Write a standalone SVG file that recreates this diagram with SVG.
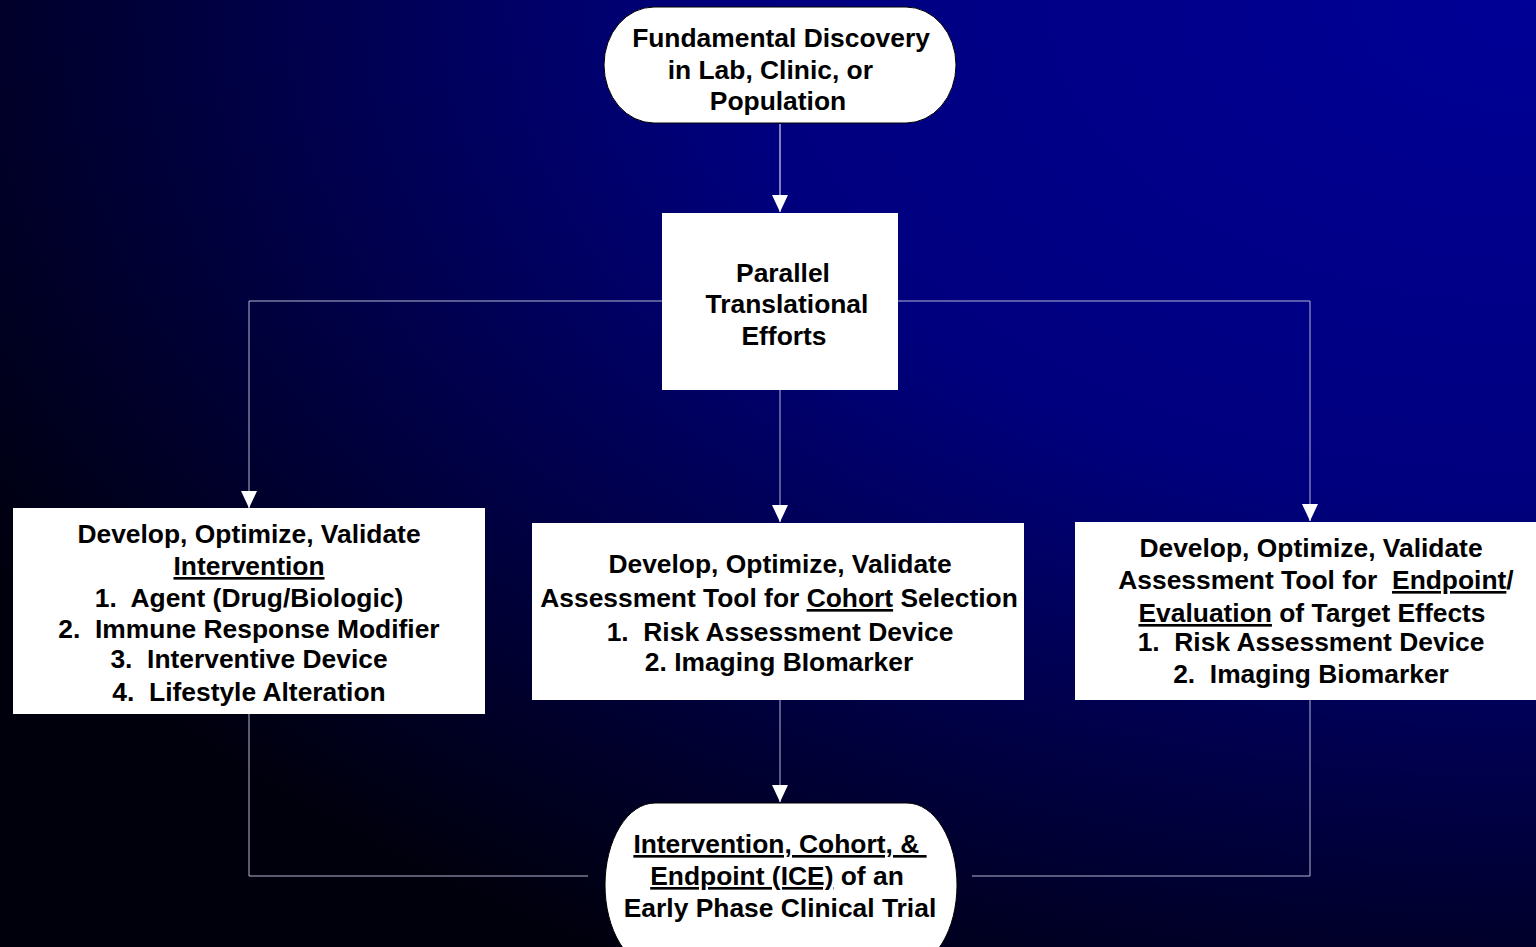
<svg xmlns="http://www.w3.org/2000/svg" width="1536" height="947" viewBox="0 0 1536 947">
  <defs>
    <radialGradient id="bg" gradientUnits="userSpaceOnUse" cx="1536" cy="0" r="1800" gradientTransform="translate(1536 0) scale(1 0.62) translate(-1536 0)">
      <stop offset="0" stop-color="#000096"/>
      <stop offset="0.45" stop-color="#00007e"/>
      <stop offset="0.85" stop-color="#00002a"/>
      <stop offset="1" stop-color="#00000c"/>
    </radialGradient>
    <marker id="arrow" markerUnits="userSpaceOnUse" markerWidth="17" markerHeight="16" viewBox="0 0 17 16" refX="17" refY="8" orient="auto">
      <path d="M0,0 L17,8 L0,16 Z" fill="#ffffff"/>
    </marker>
    <style>
      .node { fill: #ffffff; }
      .lbl { font-family: "Liberation Sans", Arial, sans-serif; font-weight: bold; font-size: 26.4px; fill: #000000; text-anchor: middle; }
      .u { text-decoration: underline; }
      .conn { fill: none; stroke: #b4b4d2; stroke-width: 1; }
      .arr { fill: none; stroke: #ffffff; stroke-width: 1; }
    </style>
  </defs>

  <rect x="0" y="0" width="1536" height="947" fill="url(#bg)"/>

  <g id="connectors">
    <path class="arr" d="M780,124 V212" marker-end="url(#arrow)"/>
    <path class="conn" d="M662,301 H249 V492"/>
    <path class="arr" d="M249,492 V508" marker-end="url(#arrow)"/>
    <path class="conn" d="M898,301 H1310 V505"/>
    <path class="arr" d="M1310,505 V521" marker-end="url(#arrow)"/>
    <path class="conn" d="M780,390 V506"/>
    <path class="arr" d="M780,506 V522" marker-end="url(#arrow)"/>
    <path class="conn" d="M780,700 V786"/>
    <path class="arr" d="M780,786 V802" marker-end="url(#arrow)"/>
    <path class="conn" d="M249,714 V876 H588"/>
    <path class="conn" d="M1310,700 V876 H972"/>
  </g>

  <g id="node-discovery">
    <rect class="node" x="604" y="7" width="352" height="116" rx="50" ry="58" stroke="#000000" stroke-width="1"/>
    <text class="lbl" x="781" y="47">Fundamental Discovery</text>
    <text class="lbl" x="774" y="79" xml:space="preserve">in Lab, Clinic, or </text>
    <text class="lbl" x="778" y="110">Population</text>
  </g>

  <g id="node-parallel">
    <rect class="node" x="662" y="213" width="236" height="177"/>
    <text class="lbl" x="783" y="282">Parallel</text>
    <text class="lbl" x="787" y="313">Translational</text>
    <text class="lbl" x="784" y="345">Efforts</text>
  </g>

  <g id="node-intervention">
    <rect class="node" x="13" y="508" width="472" height="206"/>
    <text class="lbl" x="249" y="543">Develop, Optimize, Validate</text>
    <text class="lbl" x="249" y="575"><tspan class="u">Intervention</tspan></text>
    <text class="lbl" x="249" y="607" xml:space="preserve">1.  Agent (Drug/Biologic)</text>
    <text class="lbl" x="249" y="638" xml:space="preserve">2.  Immune Response Modifier</text>
    <text class="lbl" x="249" y="668" xml:space="preserve">3.  Interventive Device</text>
    <text class="lbl" x="249" y="701" xml:space="preserve">4.  Lifestyle Alteration</text>
  </g>

  <g id="node-cohort">
    <rect class="node" x="532" y="523" width="492" height="177"/>
    <text class="lbl" x="780" y="573">Develop, Optimize, Validate</text>
    <text class="lbl" x="779" y="607" xml:space="preserve">Assessment Tool for <tspan class="u">Cohort</tspan> Selection</text>
    <text class="lbl" x="780" y="641" xml:space="preserve">1.  Risk Assessment Device</text>
    <text class="lbl" x="779" y="671">2. Imaging BIomarker</text>
  </g>

  <g id="node-endpoint">
    <rect class="node" x="1075" y="522" width="480" height="178"/>
    <text class="lbl" x="1311" y="557">Develop, Optimize, Validate</text>
    <text class="lbl" x="1316" y="589" xml:space="preserve">Assessment Tool for  <tspan class="u">Endpoint</tspan>/</text>
    <text class="lbl" x="1312" y="622"><tspan class="u">Evaluation</tspan> of Target Effects</text>
    <text class="lbl" x="1311" y="651" xml:space="preserve">1.  Risk Assessment Device</text>
    <text class="lbl" x="1311" y="683" xml:space="preserve">2.  Imaging Biomarker</text>
  </g>

  <g id="node-ice">
    <rect class="node" x="605" y="803" width="352" height="164" rx="50" ry="82" stroke="#000000" stroke-width="1"/>
    <text class="lbl" x="780" y="853" xml:space="preserve"><tspan class="u">Intervention, Cohort, &amp; </tspan></text>
    <text class="lbl" x="777" y="885"><tspan class="u">Endpoint (ICE)</tspan> of an</text>
    <text class="lbl" x="780" y="917">Early Phase Clinical Trial</text>
  </g>
</svg>
